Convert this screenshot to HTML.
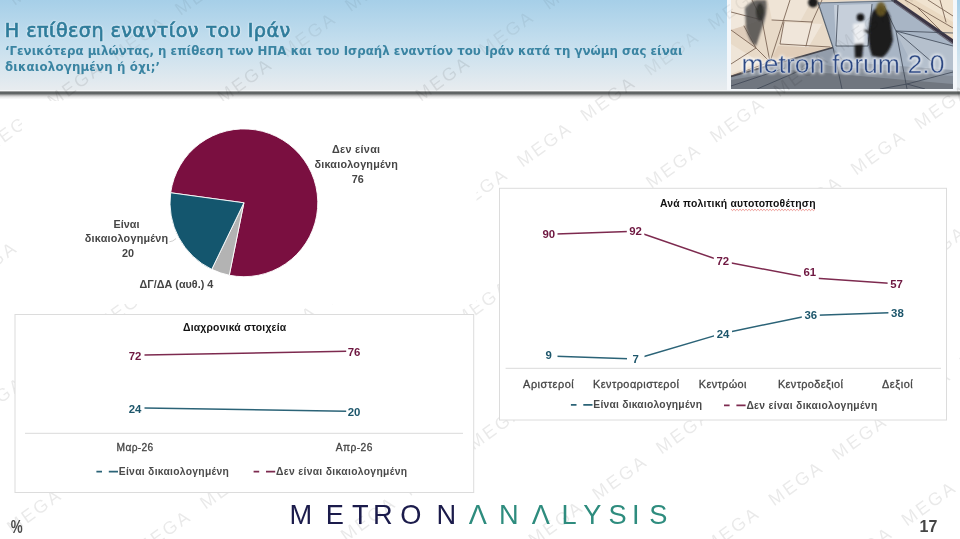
<!DOCTYPE html>
<html lang="el"><head><meta charset="utf-8"><title>Η επίθεση εναντίον του Ιράν</title>
<style>
html,body{margin:0;padding:0;background:#fff;}
body{width:960px;height:539px;overflow:hidden;position:relative;font-family:"Liberation Sans","DejaVu Sans",sans-serif;}
svg{position:absolute;left:0;top:0;display:block}
text{font-family:"Liberation Sans","DejaVu Sans",sans-serif;}
.wm{font-size:18px;fill:#000;fill-opacity:0.085;letter-spacing:2.6px;}
.ttl{font-family:"DejaVu Sans","Liberation Sans",sans-serif;font-size:19.2px;fill:#2f7c9b;stroke:#2f7c9b;stroke-width:0.7px;letter-spacing:0.43px;}
.sub{font-family:"DejaVu Sans","Liberation Sans",sans-serif;font-weight:bold;font-size:11.8px;fill:#3a84a2;}
.pl{font-weight:bold;font-size:10.8px;fill:#454545;text-anchor:middle;}
.ct{font-weight:bold;font-size:10.4px;fill:#111;}
.dm{font-weight:bold;font-size:11.4px;fill:#6e1740;text-anchor:middle;}
.dt{font-weight:bold;font-size:11.4px;fill:#1d566b;text-anchor:middle;}
.ax{font-size:10.2px;fill:#454545;stroke:#454545;stroke-width:0.3px;text-anchor:middle;}
.lg{font-weight:bold;font-size:10.3px;fill:#4a4a4a;}
</style></head><body>
<svg width="960" height="539" viewBox="0 0 960 539">
<defs>
<linearGradient id="hg" x1="0" y1="0" x2="0" y2="1">
<stop offset="0" stop-color="#a6cfe8"/><stop offset="0.5" stop-color="#c6dfee"/><stop offset="1" stop-color="#e8ecef"/>
</linearGradient>
<linearGradient id="sh" x1="0" y1="0" x2="0" y2="1">
<stop offset="0" stop-color="#5a5e5e" stop-opacity="0.25"/><stop offset="0.12" stop-color="#565a5a" stop-opacity="0.95"/><stop offset="0.32" stop-color="#5a5e5e" stop-opacity="0.95"/><stop offset="0.5" stop-color="#6a6a6a" stop-opacity="0.5"/><stop offset="0.7" stop-color="#777" stop-opacity="0.18"/><stop offset="1" stop-color="#888" stop-opacity="0"/>
</linearGradient>
<filter id="b1" x="-20%" y="-20%" width="140%" height="140%"><feGaussianBlur stdDeviation="1.2"/></filter>
<filter id="b2" x="-5%" y="-10%" width="110%" height="120%"><feGaussianBlur stdDeviation="0.45"/></filter>
<filter id="glow" x="-10%" y="-30%" width="120%" height="160%"><feGaussianBlur stdDeviation="1.6"/></filter>
<clipPath id="pc"><rect x="731" y="0" width="222" height="89"/></clipPath>
</defs>
<rect width="960" height="539" fill="#fff"/>
<rect x="0" y="0" width="960" height="90.3" fill="url(#hg)"/>
<rect x="0" y="90.3" width="960" height="1" fill="#f3f5f6"/>
<rect x="0" y="91" width="960" height="8.5" fill="url(#sh)"/>
<rect x="727" y="0" width="230" height="91" fill="#f4f7fa"/>
<g clip-path="url(#pc)">
<g filter="url(#b2)">
<rect x="725" y="-6" width="234" height="101" fill="#e8dac8"/>
<polygon points="731,0 752,0 744,26 731,30" fill="#f1e8dc"/>
<polygon points="768,0 812,0 800,22 772,20" fill="#efe4d6"/>
<polygon points="784,22 822,24 808,48 780,44" fill="#f0e6da"/>
<polygon points="778,46 830,48 790,60 770,62" fill="#e0cdb9"/>
<polygon points="731,44 760,62 731,74" fill="#efe5d8"/>
<polygon points="731,30 756,48 762,20" fill="#dfcdbb"/>
<polygon points="897,0 953,0 953,40" fill="#ead9c2"/>
<polygon points="915,0 953,0 953,22" fill="#f0e3d0"/>
<polygon points="818,2.5 894,0 953,42 953,89 731,89 731,76 833,47.5" fill="#a8b5c5"/>
<polygon points="834,5 872,4 868,46 836,46" fill="#c6cfda"/>
<polygon points="836,46 868,46 872,62 842,66" fill="#b4bfcc"/>
<polygon points="896,32 953,46 953,72 915,70" fill="#b5c0cd"/>
<polygon points="731,76 833,47.5 845,62 953,70 953,89 731,89" fill="#939dab"/>
<polygon points="731,77 800,58 830,66 953,76 953,89 731,89" fill="#858d98"/>
<polygon points="731,80 790,70 953,84 953,89 731,89" fill="#70767f"/>
<g stroke="#7d6757" stroke-width="0.9" fill="none" stroke-linecap="round">
<path d="M731,30 L756,48 L731,64 M756,48 L770,62 L731,76 M752,0 L762,20 L770,62 M770,62 L790,0 M772,20 L812,22 M784,22 L780,44 L830,47 M812,22 L806,46 M812,22 L822,0 M731,12 L762,20 M744,26 L756,48"/>
<path d="M905,0 L953,28 M928,0 L953,16 M918,8 L940,30 M940,0 L946,22"/>
</g>
<path d="M731,76.5 L833,47.5" stroke="#45454c" stroke-width="1.8"/>
<path d="M892,-1 L954,42" stroke="#3b3644" stroke-width="3.6"/>
<path d="M895,3 L953,44" stroke="#6c6a78" stroke-width="1.2"/>
<path d="M818,2.5 L833,47.5" stroke="#56606c" stroke-width="1.1"/>
<path d="M818,3 L894,1" stroke="#6a7480" stroke-width="1"/>
<g stroke="#3d4654" stroke-width="0.8" fill="none">
<path d="M896,31 L953,46 M896,31 L932,62 M896,31 L907,89 M884,6 L896,31 M896,31 L953,33 M833,47.5 L842,89 M907,84 L953,72 M880,89 L907,84 L925,89 M731,86 L785,68 M757,89 L806,68 M838,5 L836,46 M872,4 L868,46 M836,46 L868,46"/>
</g>
<g filter="url(#b1)">
<path d="M745,8 Q750,2 756,0 L766,0 Q768,10 764,22 Q760,34 756,46 Q749,42 746,28 Z" fill="#444446" opacity="0.8"/>
<ellipse cx="760" cy="12" rx="4" ry="9" fill="#2c2a26" opacity="0.85"/>
<ellipse cx="813" cy="2.5" rx="5" ry="5" fill="#1d1d1d"/>
<ellipse cx="860.5" cy="17.5" rx="3.8" ry="4" fill="#121214"/>
<path d="M853,24 L865,22.5 L864,44 L854.5,45 Z" fill="#eef0f3"/>
<path d="M854.5,44 L863.5,43.5 L862,58.5 L855,58.5 Z" fill="#1a1a1e"/>
<path d="M870,20 Q872,8 880,6 Q890,8 891,24 L893,40 Q890,52 882,58 L872,56 Q866,40 870,20 Z" fill="#1a1a1e"/>
<ellipse cx="881" cy="9" rx="5" ry="7" fill="#6a5a24" opacity="0.9"/>
<path d="M864,30 L872,34" stroke="#222" stroke-width="2.5"/>
</g>
</g>
<text x="741.5" y="73.2" font-size="26.6" fill="#fff" stroke="#fff" stroke-width="2.2" stroke-linejoin="round" filter="url(#glow)" opacity="0.7" textLength="203">metron forum 2.0</text>
</g>
<text x="741.5" y="73.2" font-size="26.6" fill="#2c4781" stroke="#c9d3e2" stroke-width="0.5" paint-order="fill stroke" textLength="203">metron forum 2.0</text>
<text class="wm"  text-anchor="middle" transform="translate(11.4,129.8) rotate(-35.7)" x="0" y="6.4">MEGA</text>
<text class="wm"  text-anchor="middle" transform="translate(75.1,84.0) rotate(-35.7)" x="0" y="6.4">MEGA</text>
<text class="wm" style="fill-opacity:0.055" text-anchor="middle" transform="translate(138.9,38.1) rotate(-35.7)" x="0" y="6.4">MEGA</text>
<text class="wm" style="fill-opacity:0.055" text-anchor="middle" transform="translate(202.6,-7.7) rotate(-35.7)" x="0" y="6.4">MEGA</text>
<text class="wm"  text-anchor="middle" transform="translate(-10.0,263.3) rotate(-35.7)" x="0" y="6.4">MEGA</text>
<text class="wm"  text-anchor="middle" transform="translate(53.7,217.5) rotate(-35.7)" x="0" y="6.4">MEGA</text>
<text class="wm"  text-anchor="middle" transform="translate(245.0,80.1) rotate(-35.7)" x="0" y="6.4">MEGA</text>
<text class="wm" style="fill-opacity:0.055" text-anchor="middle" transform="translate(308.7,34.3) rotate(-35.7)" x="0" y="6.4">MEGA</text>
<text class="wm" style="fill-opacity:0.055" text-anchor="middle" transform="translate(372.5,-11.5) rotate(-35.7)" x="0" y="6.4">MEGA</text>
<text class="wm"  text-anchor="middle" transform="translate(-3.3,398.9) rotate(-35.7)" x="0" y="6.4">MEGA</text>
<text class="wm"  text-anchor="middle" transform="translate(124.2,307.3) rotate(-35.7)" x="0" y="6.4">MEGA</text>
<text class="wm"  text-anchor="middle" transform="translate(379.1,124.1) rotate(-35.7)" x="0" y="6.4">MEGA</text>
<text class="wm"  text-anchor="middle" transform="translate(442.9,78.3) rotate(-35.7)" x="0" y="6.4">MEGA</text>
<text class="wm" style="fill-opacity:0.055" text-anchor="middle" transform="translate(506.6,32.5) rotate(-35.7)" x="0" y="6.4">MEGA</text>
<text class="wm" style="fill-opacity:0.055" text-anchor="middle" transform="translate(570.4,-13.4) rotate(-35.7)" x="0" y="6.4">MEGA</text>
<text class="wm"  text-anchor="middle" transform="translate(-29.3,556.4) rotate(-35.7)" x="0" y="6.4">MEGA</text>
<text class="wm"  text-anchor="middle" transform="translate(34.4,510.6) rotate(-35.7)" x="0" y="6.4">MEGA</text>
<text class="wm"  text-anchor="middle" transform="translate(289.4,327.3) rotate(-35.7)" x="0" y="6.4">MEGA</text>
<text class="wm"  text-anchor="middle" transform="translate(353.1,281.5) rotate(-35.7)" x="0" y="6.4">MEGA</text>
<text class="wm"  text-anchor="middle" transform="translate(480.6,189.9) rotate(-35.7)" x="0" y="6.4">MEGA</text>
<text class="wm"  text-anchor="middle" transform="translate(544.4,144.1) rotate(-35.7)" x="0" y="6.4">MEGA</text>
<text class="wm"  text-anchor="middle" transform="translate(608.1,98.3) rotate(-35.7)" x="0" y="6.4">MEGA</text>
<text class="wm" style="fill-opacity:0.055" text-anchor="middle" transform="translate(671.9,52.5) rotate(-35.7)" x="0" y="6.4">MEGA</text>
<text class="wm" style="fill-opacity:0.055" text-anchor="middle" transform="translate(735.6,6.7) rotate(-35.7)" x="0" y="6.4">MEGA</text>
<text class="wm"  text-anchor="middle" transform="translate(163.6,531.9) rotate(-35.7)" x="0" y="6.4">MEGA</text>
<text class="wm"  text-anchor="middle" transform="translate(227.4,486.1) rotate(-35.7)" x="0" y="6.4">MEGA</text>
<text class="wm"  text-anchor="middle" transform="translate(482.4,302.8) rotate(-35.7)" x="0" y="6.4">MEGA</text>
<text class="wm"  text-anchor="middle" transform="translate(609.9,211.2) rotate(-35.7)" x="0" y="6.4">MEGA</text>
<text class="wm"  text-anchor="middle" transform="translate(673.6,165.4) rotate(-35.7)" x="0" y="6.4">MEGA</text>
<text class="wm"  text-anchor="middle" transform="translate(737.4,119.6) rotate(-35.7)" x="0" y="6.4">MEGA</text>
<text class="wm"  text-anchor="middle" transform="translate(801.1,73.8) rotate(-35.7)" x="0" y="6.4">MEGA</text>
<text class="wm" style="fill-opacity:0.055" text-anchor="middle" transform="translate(864.8,28.0) rotate(-35.7)" x="0" y="6.4">MEGA</text>
<text class="wm" style="fill-opacity:0.055" text-anchor="middle" transform="translate(928.6,-17.8) rotate(-35.7)" x="0" y="6.4">MEGA</text>
<text class="wm"  text-anchor="middle" transform="translate(304.5,564.3) rotate(-35.7)" x="0" y="6.4">MEGA</text>
<text class="wm"  text-anchor="middle" transform="translate(368.3,518.5) rotate(-35.7)" x="0" y="6.4">MEGA</text>
<text class="wm"  text-anchor="middle" transform="translate(432.0,472.7) rotate(-35.7)" x="0" y="6.4">MEGA</text>
<text class="wm"  text-anchor="middle" transform="translate(495.8,426.9) rotate(-35.7)" x="0" y="6.4">MEGA</text>
<text class="wm"  text-anchor="middle" transform="translate(814.5,197.9) rotate(-35.7)" x="0" y="6.4">MEGA</text>
<text class="wm"  text-anchor="middle" transform="translate(878.3,152.1) rotate(-35.7)" x="0" y="6.4">MEGA</text>
<text class="wm"  text-anchor="middle" transform="translate(942.0,106.3) rotate(-35.7)" x="0" y="6.4">MEGA</text>
<text class="wm"  text-anchor="middle" transform="translate(492.3,568.6) rotate(-35.7)" x="0" y="6.4">MEGA</text>
<text class="wm"  text-anchor="middle" transform="translate(556.0,522.8) rotate(-35.7)" x="0" y="6.4">MEGA</text>
<text class="wm"  text-anchor="middle" transform="translate(619.8,477.0) rotate(-35.7)" x="0" y="6.4">MEGA</text>
<text class="wm"  text-anchor="middle" transform="translate(683.5,431.1) rotate(-35.7)" x="0" y="6.4">MEGA</text>
<text class="wm"  text-anchor="middle" transform="translate(938.5,247.9) rotate(-35.7)" x="0" y="6.4">MEGA</text>
<text class="wm"  text-anchor="middle" transform="translate(732.1,528.7) rotate(-35.7)" x="0" y="6.4">MEGA</text>
<text class="wm"  text-anchor="middle" transform="translate(795.9,482.9) rotate(-35.7)" x="0" y="6.4">MEGA</text>
<text class="wm"  text-anchor="middle" transform="translate(859.6,437.1) rotate(-35.7)" x="0" y="6.4">MEGA</text>
<text class="wm"  text-anchor="middle" transform="translate(923.4,391.3) rotate(-35.7)" x="0" y="6.4">MEGA</text>
<text class="wm"  text-anchor="middle" transform="translate(987.1,345.5) rotate(-35.7)" x="0" y="6.4">MEGA</text>
<text class="wm"  text-anchor="middle" transform="translate(865.1,548.8) rotate(-35.7)" x="0" y="6.4">MEGA</text>
<text class="wm"  text-anchor="middle" transform="translate(928.9,503.0) rotate(-35.7)" x="0" y="6.4">MEGA</text>
<text class="wm"  text-anchor="middle" transform="translate(992.6,457.2) rotate(-35.7)" x="0" y="6.4">MEGA</text>
<text class="wm" style="fill-opacity:0.055" text-anchor="middle" transform="translate(-27.2,28.2) rotate(-35.7)" x="0" y="6.4">MEGA</text>
<text class="wm" style="fill-opacity:0.055" text-anchor="middle" transform="translate(36.6,-17.7) rotate(-35.7)" x="0" y="6.4">MEGA</text>
<rect x="22" y="101" width="454.5" height="203" fill="#fff"/>
<text class="ttl" x="4.8" y="36.6" style="filter:drop-shadow(0 0 1.2px rgba(255,255,255,.9))">Η επίθεση εναντίον του Ιράν</text>
<text class="sub" x="5" y="55.4" textLength="677.5">‘Γενικότερα μιλώντας, η επίθεση των ΗΠΑ και του Ισραήλ εναντίον του Ιράν κατά τη γνώμη σας είναι</text>
<text class="sub" x="5" y="70.6" textLength="155">δικαιολογημένη ή όχι;’</text>
<path d="M243.9,202.8 L170.68,192.77 A73.9,73.9 0 1 1 229.29,275.24 Z" fill="#7a0f40" stroke="#fff" stroke-width="0.9" stroke-linejoin="round"/>
<path d="M243.9,202.8 L229.29,275.24 A73.9,73.9 0 0 1 211.74,269.33 Z" fill="#b3b3b3" stroke="#fff" stroke-width="0.9" stroke-linejoin="round"/>
<path d="M243.9,202.8 L211.74,269.33 A73.9,73.9 0 0 1 170.68,192.77 Z" fill="#14566e" stroke="#fff" stroke-width="0.9" stroke-linejoin="round"/>
<text class="pl" x="356" y="152.8" textLength="48.2">Δεν είναι</text>
<text class="pl" x="356.2" y="167.6" textLength="83.4">δικαιολογημένη</text>
<text class="pl" x="357.8" y="182.8">76</text>
<text class="pl" x="126.5" y="227.9">Είναι</text>
<text class="pl" x="126.5" y="241.9" textLength="83.4">δικαιολογημένη</text>
<text class="pl" x="128" y="256.6">20</text>
<text class="pl" x="176.4" y="288.4">ΔΓ/ΔΑ (αυθ.) 4</text>
<path d="M169.4,241.8 Q173,241.6 176,238.6" stroke="#cfcfcf" stroke-width="1" fill="none"/>
<rect x="15" y="314.5" width="458.7" height="178" fill="#fff" stroke="#dcdcdc" stroke-width="1"/>
<text class="ct" x="183" y="331" textLength="103.2">Διαχρονικά στοιχεία</text>
<line x1="25" y1="433.3" x2="463" y2="433.3" stroke="#dadada" stroke-width="1"/>
<line x1="144.5" y1="355" x2="346.2" y2="351.3" stroke="#7d2a4f" stroke-width="1.5"/>
<line x1="144.5" y1="408" x2="346.2" y2="411.3" stroke="#2b6377" stroke-width="1.5"/>
<text class="dm" x="135" y="360">72</text>
<text class="dm" x="354" y="356.2">76</text>
<text class="dt" x="135" y="413">24</text>
<text class="dt" x="354" y="416.2">20</text>
<text class="ax" x="134.9" y="451.3" textLength="36.6">Μαρ-26</text>
<text class="ax" x="354" y="451.3" textLength="36.6">Απρ-26</text>
<path d="M96.39999999999999,471.59999999999997 h5.6 M108.8,471.59999999999997 h9.2" stroke="#2b6377" stroke-width="1.9"/>
<text class="lg" x="118.8" y="475.0" textLength="110">Είναι δικαιολογημένη</text>
<path d="M253.6,471.59999999999997 h5.6 M266,471.59999999999997 h9.2" stroke="#7d2a4f" stroke-width="1.9"/>
<text class="lg" x="276" y="475.0" textLength="131">Δεν είναι δικαιολογημένη</text>
<rect x="499.5" y="188.3" width="447" height="231.7" fill="#fff" stroke="#dcdcdc" stroke-width="1"/>
<text class="ct" x="660" y="206.8" textLength="155.5">Ανά πολιτική αυτοτοποθέτηση</text>
<path d="M731,209.2 l1.5,1.4 l1.5,-1.4 l1.5,1.4 l1.5,-1.4 l1.5,1.4 l1.5,-1.4 l1.5,1.4 l1.5,-1.4 l1.5,1.4 l1.5,-1.4 l1.5,1.4 l1.5,-1.4 l1.5,1.4 l1.5,-1.4 l1.5,1.4 l1.5,-1.4 l1.5,1.4 l1.5,-1.4 l1.5,1.4 l1.5,-1.4 l1.5,1.4 l1.5,-1.4 l1.5,1.4 l1.5,-1.4 l1.5,1.4 l1.5,-1.4 l1.5,1.4 l1.5,-1.4 l1.5,1.4 l1.5,-1.4 l1.5,1.4 l1.5,-1.4 l1.5,1.4 l1.5,-1.4 l1.5,1.4 l1.5,-1.4 l1.5,1.4 l1.5,-1.4 l1.5,1.4 l1.5,-1.4 l1.5,1.4 l1.5,-1.4 l1.5,1.4 l1.5,-1.4 l1.5,1.4 l1.5,-1.4 l1.5,1.4 l1.5,-1.4 l1.5,1.4 l1.5,-1.4 l1.5,1.4 l1.5,-1.4 l1.5,1.4 l1.5,-1.4 l1.5,1.4 l1.5,-1.4" stroke="#e0584f" stroke-width="0.6" fill="none"/>
<line x1="505.6" y1="368.3" x2="941" y2="368.3" stroke="#dadada" stroke-width="1"/>
<polyline points="548.8,234.2 635.6,231.2 722.5,261.3 809.4,277.8 896.2,283.8" fill="none" stroke="#7d2a4f" stroke-width="1.5" stroke-linejoin="round"/>
<polyline points="548.8,356.0 635.6,359.0 722.5,333.4 809.4,315.4 896.2,312.4" fill="none" stroke="#2b6377" stroke-width="1.5" stroke-linejoin="round"/>
<rect x="540.0" y="227.0" width="17.5" height="15" fill="#fff"/>
<text class="dm" x="548.75" y="238">90</text>
<rect x="626.8" y="224.2" width="17.5" height="15" fill="#fff"/>
<text class="dm" x="635.5" y="235.2">92</text>
<rect x="713.8" y="254.4" width="18" height="15" fill="#fff"/>
<text class="dm" x="722.8" y="265.4">72</text>
<rect x="800.8" y="265.3" width="18" height="15" fill="#fff"/>
<text class="dm" x="809.8" y="276.3">61</text>
<rect x="887.6" y="277.0" width="18" height="15" fill="#fff"/>
<text class="dm" x="896.6" y="288">57</text>
<rect x="540.0" y="347.8" width="17.5" height="15" fill="#fff"/>
<text class="dt" x="548.7" y="358.8">9</text>
<rect x="627.0" y="351.7" width="17.5" height="15" fill="#fff"/>
<text class="dt" x="635.7" y="362.7">7</text>
<rect x="714.0" y="326.7" width="18" height="15" fill="#fff"/>
<text class="dt" x="723" y="337.7">24</text>
<rect x="801.8" y="308.3" width="18" height="15" fill="#fff"/>
<text class="dt" x="810.8" y="319.3">36</text>
<rect x="888.4" y="306.1" width="18" height="15" fill="#fff"/>
<text class="dt" x="897.4" y="317.1">38</text>
<text class="ax" style="font-size:10.9px" x="548.4" y="388.1" textLength="50.6">Αριστεροί</text>
<text class="ax" style="font-size:10.9px" x="636" y="388.1" textLength="85.9">Κεντροαριστεροί</text>
<text class="ax" style="font-size:10.9px" x="722.6" y="388.1" textLength="47.6">Κεντρώοι</text>
<text class="ax" style="font-size:10.9px" x="810.4" y="388.1" textLength="64.9">Κεντροδεξιοί</text>
<text class="ax" style="font-size:10.9px" x="897.3" y="388.1" textLength="30.8">Δεξιοί</text>
<path d="M570.9,404.9 h5.6 M583.3,404.9 h9.2" stroke="#2b6377" stroke-width="1.9"/>
<text class="lg" x="593.3" y="408.3" textLength="108.7">Είναι δικαιολογημένη</text>
<path d="M724.0,405.4 h5.6 M736.4,405.4 h9.2" stroke="#7d2a4f" stroke-width="1.9"/>
<text class="lg" x="746.4" y="408.8" textLength="130.8">Δεν είναι δικαιολογημένη</text>
<text y="524.4" font-size="27.2" text-anchor="middle" fill="#1b1b4b" x="300.9 334.7 360.2 382.8 410.8 446.2">METRON</text>
<text y="524.4" font-size="27.2" text-anchor="middle" fill="#2e8c7e" x="477.8 508.7 540.8 569 592.3 617.5 635.8 658.2">ΛNΛLYSIS</text>
<text transform="translate(10.8,532.6) scale(0.72,1)" font-size="18.6" font-weight="bold" fill="#4a4a4a">%</text>
<text x="919.5" y="531.5" font-size="16" font-weight="bold" fill="#454545">17</text>
</svg></body></html>
